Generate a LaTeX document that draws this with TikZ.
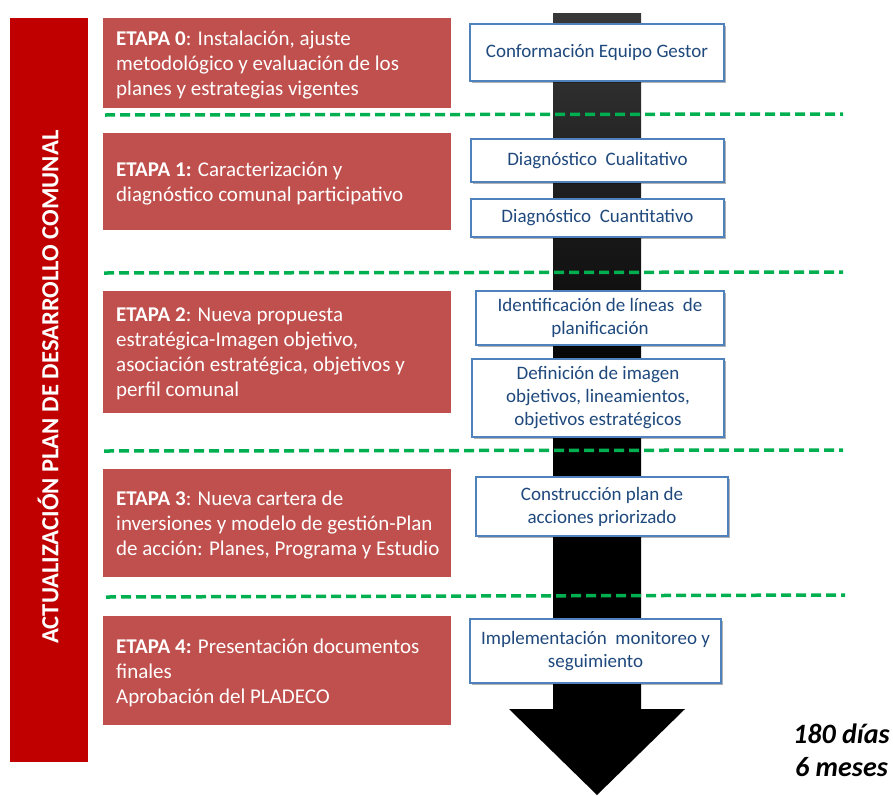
\documentclass[tikz,border=0pt]{standalone}
\usepackage{fontspec}
\setmainfont{Carlito}
\usetikzlibrary{shadows}
\definecolor{etapared}{HTML}{C0504D}
\definecolor{barred}{HTML}{C00000}
\definecolor{boxblue}{HTML}{4F81BD}
\definecolor{txtblue}{HTML}{1F497D}
\definecolor{dashgreen}{HTML}{00B050}
\begin{document}
\begin{tikzpicture}[x=1pt,y=-1pt,
  etapabox/.style={fill=etapared, draw=none, minimum width=348pt, inner sep=0pt, anchor=north west},
  etxt/.style={anchor=west, align=left, inner sep=0pt, text=white, yshift=-2pt, font=\fontsize{21}{25}\selectfont},
  actbox/.style={draw=boxblue, line width=1.1pt, fill=white, align=center, inner sep=1pt,
    text=txtblue, font=\fontsize{19}{23}\selectfont,
    drop shadow={shadow xshift=1.5pt, shadow yshift=-2pt, opacity=0.3, fill=black}},
  divider/.style={draw=dashgreen, line width=3.5pt, dash pattern=on 10pt off 5pt},
  durtxt/.style={anchor=base west, inner sep=0pt, font=\bfseries\itshape\fontsize{28}{32}\selectfont}
]
\useasboundingbox (0,0) rectangle (893,795);

% time arrow
\shade[top color=black!78, bottom color=black, middle color=black]
  (553,13) -- (641,13) -- (641,709) -- (685,709) -- (597,795) -- (509,709) -- (553,709) -- cycle;

% left bar
\node[fill=barred, minimum width=78pt, minimum height=744pt, inner sep=0pt, anchor=north west] (bar) at (10,18) {};
\node[rotate=90, text=white, font=\bfseries\fontsize{24.6}{28}\selectfont] (title) at ([xshift=-1pt,yshift=3pt]bar.center) {ACTUALIZACIÓN PLAN DE DESARROLLO COMUNAL};

% stage boxes
\node[etapabox, minimum height=90pt] (e0box) at (103,18) {};
\node[etxt] (e0) at ([xshift=13pt]e0box.west) {\textbf{ETAPA 0}: Instalación, ajuste\\metodológico y evaluación de los\\planes y estrategias vigentes};
\node[etapabox, minimum height=97pt] (e1box) at (103,133) {};
\node[etxt] (e1) at ([xshift=13pt]e1box.west) {\textbf{ETAPA 1:} Caracterización y\\diagnóstico comunal participativo};
\node[etapabox, minimum height=122pt] (e2box) at (103,291) {};
\node[etxt] (e2) at ([xshift=13pt]e2box.west) {\textbf{ETAPA 2}: Nueva propuesta\\estratégica-Imagen objetivo,\\asociación estratégica, objetivos y\\perfil comunal};
\node[etapabox, minimum height=108pt] (e3box) at (103,469) {};
\node[etxt] (e3) at ([xshift=13pt]e3box.west) {\textbf{ETAPA 3}: Nueva cartera de\\inversiones y modelo de gestión-Plan\\de acción: Planes, Programa y Estudio};
\node[etapabox, minimum height=109pt] (e4box) at (103,616) {};
\node[etxt] (e4) at ([xshift=13pt]e4box.west) {\textbf{ETAPA 4:} Presentación documentos\\finales\\Aprobación del PLADECO};

% dividers
\coordinate (g1a) at (105,115); \coordinate (g1b) at (843,114);
\coordinate (g2a) at (104,273); \coordinate (g2b) at (843,272);
\coordinate (g3a) at (104,451); \coordinate (g3b) at (843,450);
\coordinate (g4a) at (106,597); \coordinate (g4b) at (845,595);
\draw[divider] (g1a) -- (g1b);
\draw[divider] (g2a) -- (g2b);
\draw[divider] (g3a) -- (g3b);
\draw[divider] (g4a) -- (g4b);

% activity boxes
\node[actbox, minimum width=254pt, minimum height=57pt] (a0) at (597,52.5) {Conformación Equipo Gestor};
\node[actbox, minimum width=253pt, minimum height=43pt] (a1) at (597.5,160.5) {Diagnóstico\ \ Cualitativo};
\node[actbox, minimum width=253pt, minimum height=38pt] (a2) at (597.5,218) {Diagnóstico\ \ Cuantitativo};
\node[actbox, minimum width=248pt, minimum height=54pt] (a3) at (600,318) {Identificación de líneas\ \ de\\planificación};
\node[actbox, minimum width=252pt, minimum height=78pt] (a4) at (598,398) {Definición de imagen\\objetivos, lineamientos,\\objetivos estratégicos};
\node[actbox, minimum width=252pt, minimum height=59pt] (a5) at (602,506.5) {Construcción plan de\\acciones priorizado};
\node[actbox, minimum width=251pt, minimum height=64pt] (a6) at (595.5,651) {Implementación\ \ monitoreo y\\seguimiento};

% duration
\node[durtxt] (d1) at (793,743) {180 días};
\node[durtxt] (d2) at (795,776) {6 meses};
\end{tikzpicture}
\end{document}
